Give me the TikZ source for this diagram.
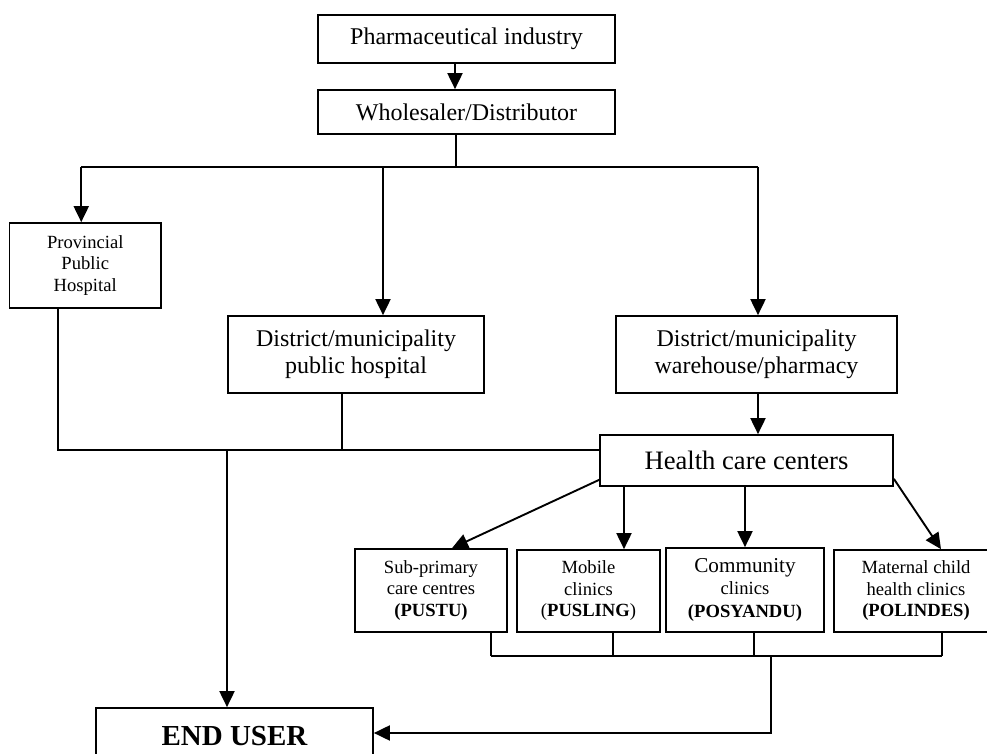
\documentclass[tikz,border=0pt]{standalone}
\usepackage{fontspec}
\setmainfont{Liberation Serif}
\usetikzlibrary{arrows.meta}

\tikzset{
  box/.style={draw, line width=0.85pt, inner sep=0pt, align=center,
    font=\fontsize{12}{13.3}\selectfont},
  smallbox/.style={box, font=\fontsize{9.3}{10.75}\selectfont},
  flow/.style={line width=0.95pt, -{Triangle[length=8pt,width=7.5pt]}},
  joinline/.style={line width=0.6pt},
  mainline/.style={line width=0.95pt}
}

\begin{document}
\begin{tikzpicture}[x=0.5pt,y=-0.5pt]
  \useasboundingbox (0,0) rectangle (987,754);

  % Supply chain, top part
  \node[box, minimum width=148.5pt, minimum height=24pt] (pharma) at (466.5,39) {Pharmaceutical industry};
  \node[box, minimum width=148.5pt, minimum height=22pt] (wholesale) at (466.5,112) {Wholesaler/Distributor};

  % Hospitals and warehouse
  \node[smallbox, minimum width=75.75pt, minimum height=42.5pt] (prov) at (85.25,265.5) {Provincial\\Public\\Hospital};
  \node[box, minimum width=128pt, minimum height=38.5pt] (disthosp) at (356,354.5) {District/municipality\\public hospital};
  \node[box, minimum width=140.5pt, minimum height=38.5pt] (warehouse) at (756.5,354.5) {District/municipality\\warehouse/pharmacy};

  % Health care centers
  \node[box, minimum width=146.5pt, minimum height=25.5pt,
    font=\fontsize{13.3}{15}\selectfont] (health) at (746.5,460.5) {Health care centers};

  % Clinics below the health care centers
  \node[smallbox, minimum width=76pt, minimum height=41.5pt] (sub) at (431,590.5) {Sub-primary\\care centres\\\textbf{(PUSTU)}};
  \node[smallbox, minimum width=71.5pt, minimum height=41pt] (mobile) at (588.5,591) {Mobile\\clinics\\(\textbf{PUSLING})};
  \node[smallbox, minimum width=79pt, minimum height=42pt] (community) at (745,590) {{\fontsize{10.6}{12}\selectfont Community}\\clinics\\[1pt]\textbf{(POSYANDU)}};
  \node[smallbox, minimum width=82pt, minimum height=41pt] (maternal) at (916,591) {Maternal child\\health clinics\\\textbf{(POLINDES)}};

  % End user (cut by the lower edge)
  \node[box, minimum width=138.5pt, minimum height=28pt,
    font=\fontsize{14.5}{16}\selectfont\bfseries] (enduser) at (234.5,736) {END USER};

  % Join points
  \coordinate (split) at (456,167);
  \coordinate (lowline) at ([yshift=5.25pt]health.west);
  \coordinate (botline) at (0,656);
  \coordinate (gather) at (771,656);

  % Industry to wholesaler
  \draw[flow] ([xshift=-5.75pt]pharma.south) -- ([xshift=-5.75pt]wholesale.north);

  % Wholesaler splits in three
  \draw[joinline] (wholesale.south -| split) -- (split);
  \draw[mainline] ([xshift=-2pt]prov.north |- split) -- ([xshift=0.75pt]warehouse.north |- split);
  \draw[flow] ([xshift=-2pt]prov.north |- split) -- ([xshift=-2pt]prov.north);
  \draw[flow] ([xshift=13.5pt]disthosp.north |- split) -- ([xshift=13.5pt]disthosp.north);
  \draw[flow] ([xshift=0.75pt]warehouse.north |- split) -- ([xshift=0.75pt]warehouse.north);

  % Hospitals to the end user
  \draw[mainline] ([xshift=-13.6pt]prov.south) |- (lowline);
  \draw[joinline] ([xshift=-7pt]disthosp.south) -- ([xshift=-7pt]disthosp.south |- lowline);
  \draw[flow] ([xshift=-3.75pt]enduser.north |- lowline) -- ([xshift=-3.75pt]enduser.north);

  % Warehouse to health care centers
  \draw[flow] ([xshift=0.75pt]warehouse.south) -- ([xshift=0.75pt]warehouse.south |- health.north);

  % Health care centers to the clinics
  \draw[flow] ([yshift=3.5pt]health.south west) -- ([xshift=10.5pt]sub.north);
  \draw[flow] ([xshift=17.75pt]mobile.north |- health.south) -- ([xshift=17.75pt]mobile.north);
  \draw[flow] (community.north |- health.south) -- (community.north);
  \draw[flow] ([yshift=4pt]health.south east) -- ([xshift=12.5pt]maternal.north);

  % Clinics back to the end user
  \draw[joinline] ([xshift=30pt]sub.south) -- ([xshift=30pt]sub.south |- botline);
  \draw[joinline] ([xshift=12.25pt]mobile.south) -- ([xshift=12.25pt]mobile.south |- botline);
  \draw[joinline] ([xshift=4.5pt]community.south) -- ([xshift=4.5pt]community.south |- botline);
  \draw[joinline] ([xshift=13pt]maternal.south) -- ([xshift=13pt]maternal.south |- botline);
  \draw[mainline] ([xshift=30pt]sub.south |- botline) -- ([xshift=13pt]maternal.south |- botline);
  \draw[flow] (gather) |- ([yshift=1.5pt]enduser.east);
\end{tikzpicture}
\end{document}
